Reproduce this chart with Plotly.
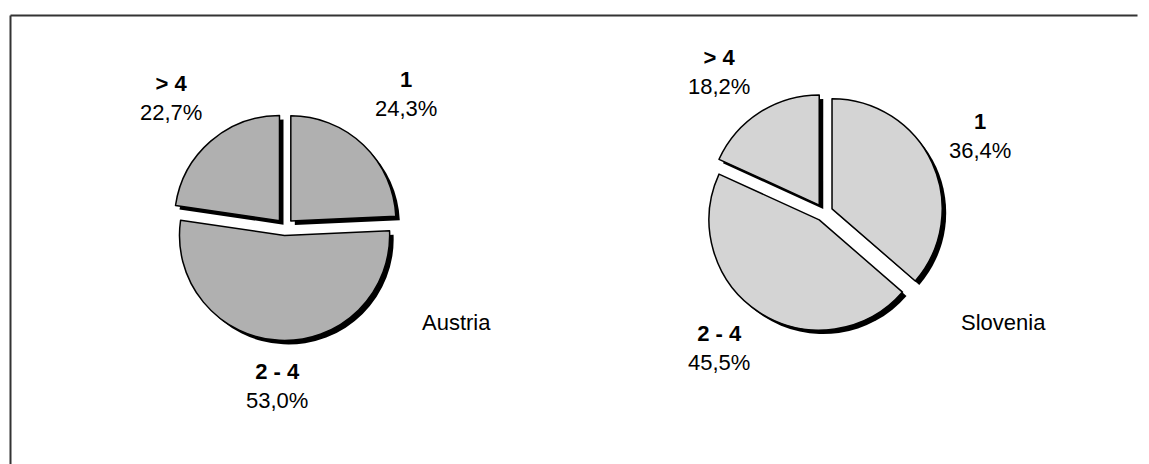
import html
import plotly.graph_objects as go

# ---- data ----
categories = ["1", "2 - 4", "> 4"]
austria_values = [24.3, 53.0, 22.7]
slovenia_values = [36.4, 45.5, 18.2]
austria_pct_labels = ["24,3%", "53,0%", "22,7%"]
slovenia_pct_labels = ["36,4%", "45,5%", "18,2%"]
countries = ["Austria", "Slovenia"]

# ---- layout constants (pixels) ----
W, H = 1149, 464
PULL = 0.08
FONT = "Arial, Liberation Sans, sans-serif"
FS = 22

pies = [
    dict(values=austria_values, pct=austria_pct_labels, cx=285, cy=227, size=227,
         color="#b0b0b0",
         label_pos=[(406, 94), (277, 386), (171, 98)], name_pos=(456, 322)),
    dict(values=slovenia_values, pct=slovenia_pct_labels, cx=824, cy=212.5, size=238,
         color="#d4d4d4",
         label_pos=[(980, 136), (719, 348), (719, 72)], name_pos=(1003, 322)),
]


def dom(cx, cy, size):
    return dict(x=[(cx - size / 2) / W, (cx + size / 2) / W],
                y=[1 - (cy + size / 2) / H, 1 - (cy - size / 2) / H])


fig = go.Figure()

# shadows
for p in pies:
    fig.add_trace(go.Pie(
        labels=categories, values=p["values"], sort=False, direction="clockwise",
        rotation=0, pull=[PULL] * len(categories), textinfo="none",
        marker=dict(colors=["#000000"] * len(categories), line=dict(width=0)),
        domain=dom(p["cx"] + 4, p["cy"] + 4, p["size"]), hoverinfo="skip",
        showlegend=False,
    ))

# pies
for p in pies:
    fig.add_trace(go.Pie(
        labels=categories, values=p["values"], sort=False, direction="clockwise",
        rotation=0, pull=[PULL] * len(categories), textinfo="none",
        marker=dict(colors=[p["color"]] * len(categories),
                    line=dict(color="#000000", width=1.5)),
        domain=dom(p["cx"], p["cy"], p["size"]), hoverinfo="skip",
        showlegend=False,
    ))

annotations = []
for p, country in zip(pies, countries):
    for cat, pct, (lx, ly) in zip(categories, p["pct"], p["label_pos"]):
        annotations.append(dict(
            x=lx / W, y=1 - ly / H, xref="paper", yref="paper",
            text=f"<b>{html.escape(cat)}</b><br>{pct}", showarrow=False,
            xanchor="center", yanchor="middle", align="center",
            font=dict(family=FONT, size=FS, color="#000000"),
        ))
    nx, ny = p["name_pos"]
    annotations.append(dict(
        x=nx / W, y=1 - ny / H, xref="paper", yref="paper", text=country,
        showarrow=False, xanchor="center", yanchor="middle",
        font=dict(family=FONT, size=FS, color="#000000"),
    ))

border = dict(color="#333333", width=2)
fig.update_layout(
    width=W, height=H,
    margin=dict(l=0, r=0, t=0, b=0),
    paper_bgcolor="white", plot_bgcolor="white",
    showlegend=False, hovermode=False,
    annotations=annotations,
    shapes=[
        dict(type="line", xref="paper", yref="paper",
             x0=10.5 / W, x1=0.99, y0=1 - 15.5 / H, y1=1 - 15.5 / H, line=border),
        dict(type="line", xref="paper", yref="paper",
             x0=10.5 / W, x1=10.5 / W, y0=0.0, y1=1 - 15.5 / H, line=border),
    ],
)

fig.write_html("out.html")
